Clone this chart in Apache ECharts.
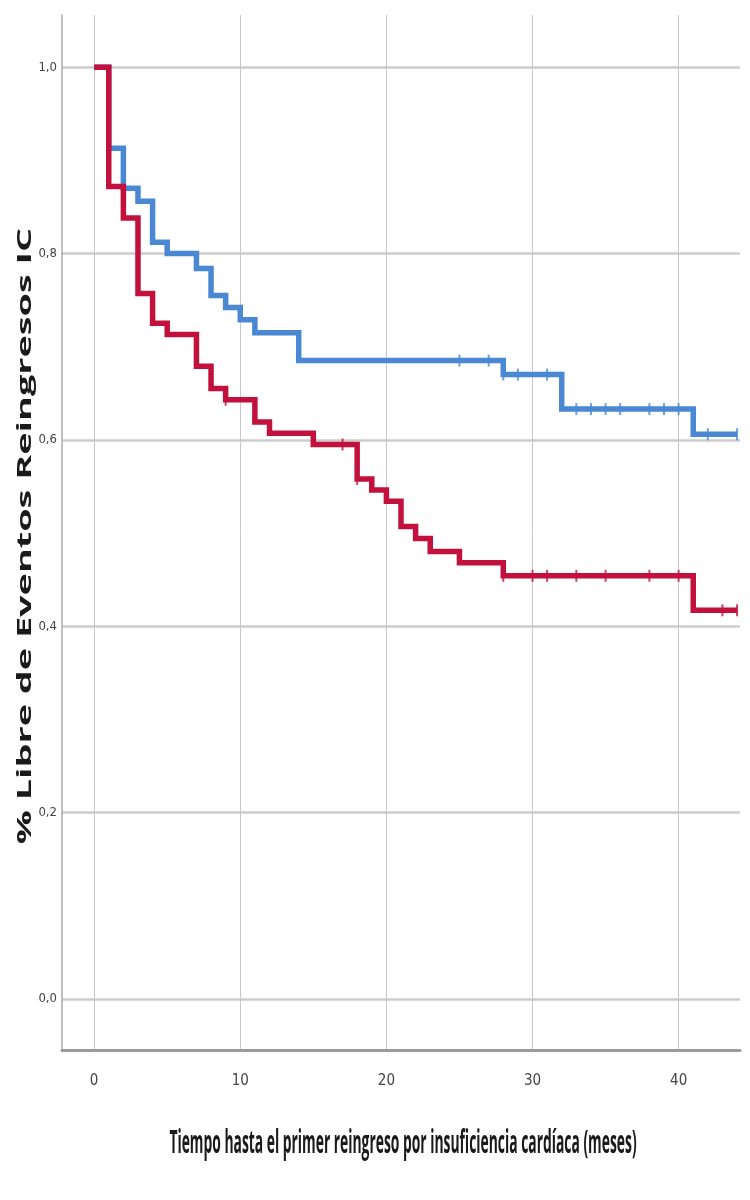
<!DOCTYPE html>
<html>
<head>
<meta charset="utf-8">
<script src="https://cdn.jsdelivr.net/npm/echarts@6/dist/echarts.min.js"></script>
<style>
html,body{margin:0;padding:0;background:#fff;}
#chart{width:750px;height:1200px;}
</style>
</head>
<body>
<div id="chart"></div>
<script>
// Kaplan-Meier step data (time in months, survival fraction)
var blueTimes  = [0, 1, 2, 3, 4, 5, 7, 8, 9, 10, 11, 14, 28, 32, 41, 44];
var blueValues = [1.0, 0.913, 0.870, 0.856, 0.812, 0.800, 0.784, 0.755, 0.742, 0.729, 0.715, 0.685, 0.670, 0.633, 0.606, 0.606];
var redTimes   = [0, 1, 2, 3, 4, 5, 7, 8, 9, 11, 12, 15, 18, 19, 20, 21, 22, 23, 25, 28, 41, 44];
var redValues  = [1.0, 0.872, 0.838, 0.757, 0.725, 0.713, 0.679, 0.655, 0.643, 0.619, 0.607, 0.595, 0.558, 0.546, 0.534, 0.507, 0.494, 0.480, 0.468, 0.454, 0.417, 0.417];
// censored observation times
var blueCensored = [25, 27, 28, 29, 31, 33, 34, 35, 36, 38, 39, 40, 42, 44];
var redCensored  = [9, 17, 18, 28, 30, 31, 33, 35, 38, 40, 43, 44];
// axis ticks
var xTicks = [0, 10, 20, 30, 40];
var yTicks = [0, 0.2, 0.4, 0.6, 0.8, 1.0];
var xTitle = 'Tiempo hasta el primer reingreso por insuficiencia cardíaca (meses)';
var yTitle = '% Libre de Eventos Reingresos IC';

function stepValueAt(times, values, t) {
  var v = values[0];
  for (var i = 0; i < times.length; i++) { if (times[i] <= t) v = values[i]; }
  return v;
}
function pairs(a, b) { return a.map(function (x, i) { return [x, b[i]]; }); }
function censorPts(c, times, values) { return c.map(function (t) { return [t, stepValueAt(times, values, t)]; }); }

var BLUE = '#4a88d4', RED = '#c2113d';
var labelFont = '"DejaVu Sans Condensed", "Liberation Sans Narrow", "Roboto Condensed", "Open Sans", sans-serif';

var chart = echarts.init(document.getElementById('chart'));
chart.setOption({
  animation: false,
  backgroundColor: '#ffffff',
  grid: { left: 62, right: 10, top: 15, bottom: 150, containLabel: false },
  xAxis: {
    type: 'value', min: -2.2, max: 44.2,
    axisLine: { show: true, onZero: false, lineStyle: { color: '#9a9a9a', width: 3 } },
    axisTick: { show: false, customValues: xTicks },
    axisLabel: { customValues: xTicks, color: '#444', fontSize: 15, fontFamily: labelFont, margin: 24 },
    splitLine: { show: true, lineStyle: { color: '#c8c8c8', width: 1 } }
  },
  yAxis: {
    type: 'value', min: -0.055, max: 1.056,
    axisLine: { show: true, onZero: false, lineStyle: { color: '#aaaaaa', width: 1.5 } },
    axisTick: { show: false, customValues: yTicks },
    axisLabel: { customValues: yTicks, color: '#444', fontSize: 13, fontFamily: labelFont, margin: 5,
      formatter: function (v) { return v.toFixed(1).replace('.', ','); } },
    splitLine: { show: true, lineStyle: { color: '#cccccc', width: 2.5 } }
  },
  graphic: [
    { type: 'text', x: 26, y: 536, rotation: Math.PI / 2, scaleX: 1.99, scaleY: 1.0, silent: true,
      style: { text: yTitle, font: 'bold 19px "Open Sans", sans-serif', fill: '#1a1a1a', textAlign: 'center', textVerticalAlign: 'middle' } },
    { type: 'text', x: 403, y: 1144, scaleX: 0.99, scaleY: 2.3, silent: true,
      style: { text: xTitle, font: 'bold 14px "Open Sans", sans-serif', fill: '#1a1a1a', textAlign: 'center', textVerticalAlign: 'middle' } }
  ],
  series: [
    { name: 'blue', type: 'line', step: 'end', data: pairs(blueTimes, blueValues), showSymbol: false,
      lineStyle: { color: BLUE, width: 5.5, cap: 'butt', join: 'miter' }, z: 3 },
    { name: 'red', type: 'line', step: 'end', data: pairs(redTimes, redValues), showSymbol: false,
      lineStyle: { color: RED, width: 5.5, cap: 'butt', join: 'miter' }, z: 4 },
    { name: 'blueCens', type: 'scatter', data: censorPts(blueCensored, blueTimes, blueValues), symbol: 'rect', symbolSize: [2, 12],
      itemStyle: { color: BLUE }, z: 5 },
    { name: 'redCens', type: 'scatter', data: censorPts(redCensored, redTimes, redValues), symbol: 'rect', symbolSize: [2, 12],
      itemStyle: { color: RED }, z: 6 }
  ]
});
</script>
</body>
</html>
